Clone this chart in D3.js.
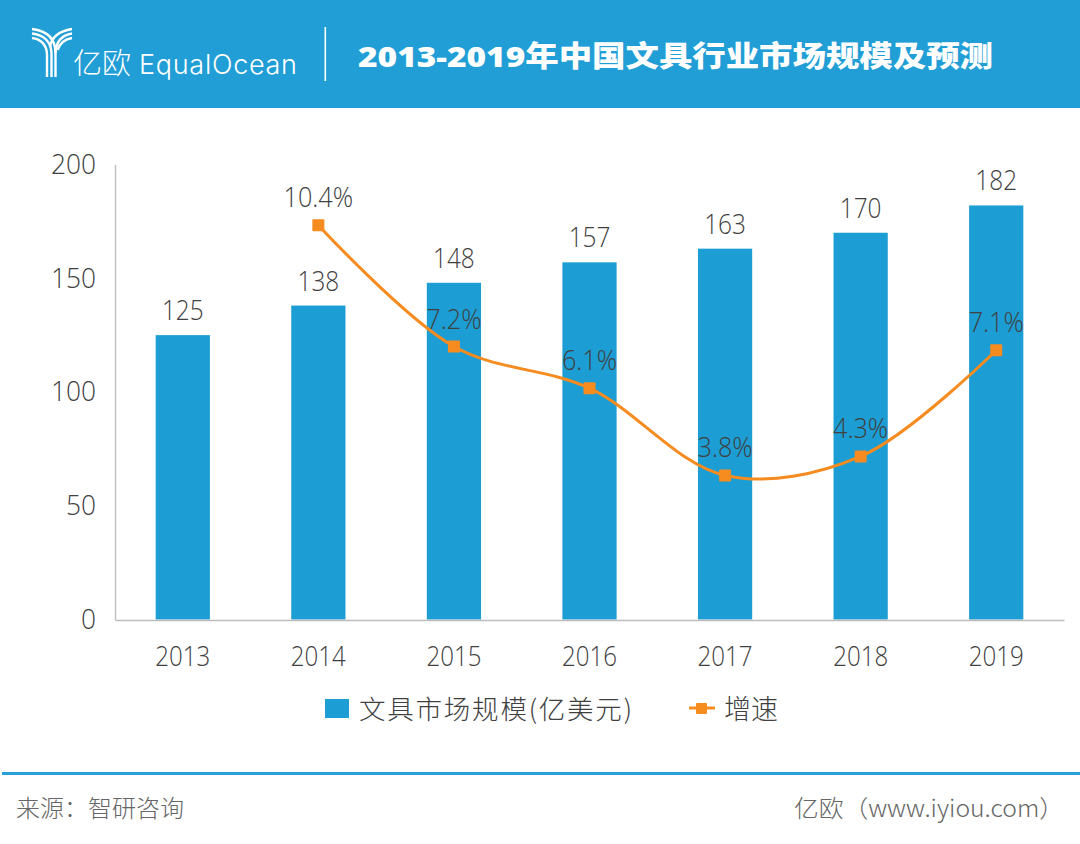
<!doctype html>
<html>
<head>
<meta charset="utf-8" />
<script src="https://d3js.org/d3.v7.min.js"></script>
<style>
    html, body { margin: 0; padding: 0; background: #fff; }
    text { font-family: "Open Sans", "Noto Sans CJK SC", sans-serif; }
</style>
</head>
<body>
<script>
var years = ["2013", "2014", "2015", "2016", "2017", "2018", "2019"];
var market = [125, 138, 148, 157, 163, 170, 182];
var growthYears = ["2014", "2015", "2016", "2017", "2018", "2019"];
var growth = [10.4, 7.2, 6.1, 3.8, 4.3, 7.1];
var yTicks = [0, 50, 100, 150, 200];
var titleText = "2013-2019年中国文具行业市场规模及预测";
var legendBar = "文具市场规模(亿美元)";
var legendLine = "增速";
var sourceText = "来源：智研咨询";
var creditText = "亿欧（www.iyiou.com）";

var blue = "#1c9dd3", orange = "#f68b1f", ink = "#404040";
var cjk = "'Noto Sans CJK SC', sans-serif";

var svg = d3.select("body").append("svg")
    .attr("width", 1080).attr("height", 844)
    .style("display", "block");

// squeeze Open Sans so its digits read like the narrower face of the original
function squeeze(sel, f) {
    sel.each(function() {
        d3.select(this)
            .attr("textLength", this.getComputedTextLength() * f)
            .attr("lengthAdjust", "spacingAndGlyphs");
    });
}

// header band
svg.append("rect").attr("width", 1080).attr("height", 108).attr("fill", "#219ed5");

// logo mark: three strands each side, running into a three line stem
var logo = svg.append("g").attr("fill", "none").attr("stroke", "#fff").attr("stroke-width", 2.4);
logo.append("path").attr("d", "M32 29C48 31 55.5 39 55.5 53");
logo.append("path").attr("d", "M32 33.5C44 35 51 42 51.5 53L51.5 77");
logo.append("path").attr("d", "M32 38C41 39 47 45 47 55L47 77");
logo.append("path").attr("d", "M72 29C60 31 51.5 37 50 47");
logo.append("path").attr("d", "M72 33.5C63 35 56 41 55.5 53L55.5 77");
logo.append("path").attr("d", "M72 38C66 39 60 43 57.5 50");

svg.append("text").attr("x", 73).attr("y", 74)
    .attr("fill", "#fff").style("font-family", cjk).style("font-weight", 300).style("font-size", "29px")
    .text("亿欧");
svg.append("text").attr("x", 139).attr("y", 74)
    .attr("fill", "#fff").style("font-family", "Inter, sans-serif").style("font-weight", 300).style("font-size", "27px")
    .attr("textLength", 158).text("EqualOcean");
svg.append("rect").attr("x", 324.5).attr("y", 27).attr("width", 1.6).attr("height", 54).attr("fill", "#fff");

svg.append("text").attr("x", 358).attr("y", 67)
    .attr("fill", "#fff").style("font-family", "'Open Sans', 'Noto Sans CJK SC', sans-serif")
    .style("font-weight", 800).style("font-size", "29px")
    .attr("textLength", 635).attr("lengthAdjust", "spacingAndGlyphs")
    .text(titleText);

// scales
var x = d3.scaleBand().domain(years).range([115, 1064]).paddingInner(0.6).paddingOuter(0.3);
var y = d3.scaleLinear().domain([0, 200]).range([619.5, 164.5]);
var yGrowth = d3.scaleLinear().domain([0, 12]).range([619.5, 164.5]);
var cx = function(d) { return x(d) + x.bandwidth() / 2; };

// bars
svg.append("g").selectAll("rect").data(market).enter().append("rect")
    .attr("x", function(d, i) { return x(years[i]); })
    .attr("y", function(d) { return y(d); })
    .attr("width", x.bandwidth())
    .attr("height", function(d) { return y(0) - y(d); })
    .attr("fill", blue);

// axes
var axisLeft = svg.append("g").attr("transform", "translate(115,0)")
    .call(d3.axisLeft(y).tickValues(yTicks).tickSize(0).tickPadding(19));
var axisBottom = svg.append("g").attr("transform", "translate(0,620)")
    .call(d3.axisBottom(x).tickSize(0).tickPadding(26));
[axisLeft, axisBottom].forEach(function(a) {
    a.select(".domain").attr("stroke", "#bdbdbd").attr("stroke-width", 1.4);
    a.selectAll("text").attr("fill", ink)
        .style("font-size", "28px").style("font-weight", 300)
        .style("font-family", "'Open Sans', sans-serif");
});
axisLeft.selectAll("text").call(squeeze, 0.94);
axisBottom.selectAll("text").call(squeeze, 0.86);

// growth line
var line = d3.line()
    .x(function(d, i) { return cx(growthYears[i]); })
    .y(function(d) { return yGrowth(d); })
    .curve(d3.curveCatmullRom.alpha(0.5));
svg.append("path").datum(growth)
    .attr("d", line).attr("fill", "none")
    .attr("stroke", orange).attr("stroke-width", 3);
svg.append("g").selectAll("rect").data(growth).enter().append("rect")
    .attr("x", function(d, i) { return cx(growthYears[i]) - 6; })
    .attr("y", function(d) { return yGrowth(d) - 6; })
    .attr("width", 12).attr("height", 12).attr("rx", 1)
    .attr("fill", orange);

// value labels
function labelStyle(sel) {
    sel.attr("text-anchor", "middle").attr("fill", ink)
        .style("font-size", "28px").style("font-weight", 300)
        .style("font-family", "'Open Sans', sans-serif");
}
svg.append("g").selectAll("text").data(market).enter().append("text")
    .attr("x", function(d, i) { return cx(years[i]); })
    .attr("y", function(d) { return y(d) - 15; })
    .text(function(d) { return d; })
    .call(labelStyle)
    .call(squeeze, 0.87);
svg.append("g").selectAll("text").data(growth).enter().append("text")
    .attr("x", function(d, i) { return cx(growthYears[i]); })
    .attr("y", function(d) { return yGrowth(d) - 18; })
    .text(function(d) { return d.toFixed(1) + "%"; })
    .call(labelStyle)
    .call(squeeze, 0.9);

// legend
svg.append("rect").attr("x", 325).attr("y", 699).attr("width", 24).attr("height", 19).attr("fill", blue);
svg.append("text").attr("x", 359).attr("y", 719)
    .attr("fill", ink).style("font-family", cjk).style("font-weight", 300).style("font-size", "26.5px")
    .attr("textLength", 273).text(legendBar);
svg.append("line").attr("x1", 689).attr("x2", 715).attr("y1", 708).attr("y2", 708)
    .attr("stroke", orange).attr("stroke-width", 3);
svg.append("rect").attr("x", 696).attr("y", 703).attr("width", 11).attr("height", 11).attr("rx", 1).attr("fill", orange);
svg.append("text").attr("x", 724).attr("y", 719)
    .attr("fill", ink).style("font-family", cjk).style("font-weight", 300).style("font-size", "27px")
    .text(legendLine);

// footer
svg.append("rect").attr("x", 2).attr("y", 772).attr("width", 1078).attr("height", 3).attr("fill", "#27a1d6");
svg.append("text").attr("x", 16).attr("y", 817)
    .attr("fill", "#666").style("font-family", cjk).style("font-weight", 300).style("font-size", "24px")
    .text(sourceText);
svg.append("text").attr("x", 794).attr("y", 817)
    .attr("fill", "#666").style("font-family", cjk).style("font-weight", 300).style("font-size", "24px")
    .attr("textLength", 270).attr("lengthAdjust", "spacingAndGlyphs").text(creditText);
</script>
</body>
</html>
